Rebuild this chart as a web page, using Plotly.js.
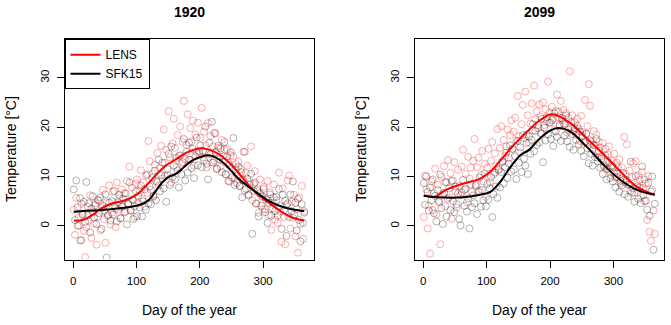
<!DOCTYPE html>
<html>
<head>
<meta charset="utf-8">
<script src="https://cdn.plot.ly/plotly-3.0.1.min.js"></script>
<style>
  html, body { margin: 0; padding: 0; background: #fff; }
  #chart { width: 671px; height: 325px; }
</style>
</head>
<body>
<div id="chart"></div>
<script>
// days sampled every second day of the year
const days = Array.from({length: 183}, (_, i) => 1 + 2 * i);

// 1920 daily temperatures (degC)
const lens1920 = [
  3.3, -1.8, 5.7, 0.0, 1.8, -2.9, 4.5, 2.2, -1.0, -6.3,
  -0.3, 3.9, 1.1, 6.2, -2.4, 2.8, 0.5, 4.6, -3.8, 1.9,
  5.1, -0.9, 3.6, 7.3, 1.4, -3.4, 4.8, 2.0, 8.2, 0.3,
  2.7, 6.9, 4.1, -0.2, 8.8, 3.3, 5.6, 1.5, 7.4, 4.0,
  6.6, 2.9, 9.1, 4.4, 12.0, 3.1, 7.8, 5.2, 1.8, 8.6,
  9.4, 4.6, 7.2, 11.3, 5.5, 8.8, 3.9, 10.2, 6.7, 17.2,
  13.1, 7.3, 10.6, 5.9, 12.4, 9.1, 14.8, 8.2, 11.7, 16.2,
  9.6, 19.5, 12.8, 15.4, 10.3, 23.2, 13.9, 8.8, 16.7, 21.7,
  15.8, 11.9, 18.4, 14.2, 20.1, 12.6, 17.0, 25.3, 13.5, 16.4,
  22.6, 13.4, 19.8, 17.1, 21.3, 12.2, 18.5, 15.0, 20.9, 14.6,
  17.8, 23.9, 13.9, 19.1, 16.3, 11.8, 20.8, 14.7, 18.2, 12.9,
  16.1, 13.2, 18.7, 11.5, 15.8, 14.1, 12.0, 17.4, 13.0, 15.5,
  10.4, 15.6, 12.8, 9.0, 14.3, 11.7, 14.1, 9.6, 12.5, 10.3,
  13.0, 8.1, 11.5, 9.4, 15.0, 7.2, 10.7, 12.2, 6.4, 8.9,
  16.1, 5.2, 8.5, 11.1, 4.6, 7.0, 2.7, 9.4, 5.9, 3.4,
  7.9, 3.4, 5.6, 9.1, 2.2, 6.8, -0.8, 4.7, 8.4, 1.3,
  5.2, 0.6, 10.8, 2.9, -3.2, 7.6, 1.8, -3.7, 4.3, 9.2,
  10.2, -0.5, 4.9, 1.6, 6.3, -2.1, 3.4, -5.4, 5.8, 0.4,
  8.1, -2.6, 3.0
];
const sfk1920 = [
  7.4, 1.2, 9.2, 3.8, 0.1, 5.6, -2.9, 2.4, 4.9, 0.8,
  8.9, 2.1, 4.6, -1.3, 3.5, 6.0, 1.7, 4.2, 0.4, 5.3,
  2.6, 5.8, -0.6, 4.1, 3.0, 6.4, -6.4, 2.2, 4.7, 1.1,
  5.0, 2.3, 7.1, 3.6, 0.9, 4.8, 6.3, 1.6, 3.9, 5.5,
  2.8, 6.6, 0.3, 4.5, 8.8, 3.2, 5.4, 1.4, 4.0, 7.0,
  2.0, 6.1, 3.7, 8.2, 1.9, 5.0, 7.4, 3.3, 10.4, 4.6,
  8.0, 4.4, 9.7, 6.1, 11.2, 5.2, 8.9, 13.4, 7.0, 10.3,
  12.8, 7.6, 10.1, 4.9, 11.5, 14.6, 8.3, 16.1, 9.9, 12.2,
  9.4, 13.8, 11.2, 7.8, 14.3, 10.5, 12.9, 17.6, 9.2, 15.0,
  10.8, 16.9, 13.4, 11.7, 15.6, 9.7, 14.1, 17.9, 12.3, 15.1,
  16.3, 11.9, 15.2, 13.3, 20.1, 12.6, 9.4, 16.8, 14.5, 21.1,
  12.8, 18.8, 14.9, 11.6, 16.2, 13.5, 15.7, 10.9, 14.1, 17.0,
  10.5, 14.0, 9.1, 12.3, 14.9, 9.8, 17.8, 8.3, 11.4, 8.7,
  12.0, 8.1, 10.9, 5.8, 9.2, 15.0, 7.5, 9.6, 6.2, 8.4,
  10.6, -1.6, 7.1, 8.8, 4.5, 7.4, 1.9, 6.6, 4.1, 6.0,
  7.5, 2.8, 5.3, 0.6, 4.7, 6.4, 2.1, 3.6, 5.8, 3.0,
  5.9, 2.1, 7.5, 4.0, -0.6, 6.3, 3.2, 5.1, -2.0, 4.6,
  1.8, 6.4, 3.0, 9.0, 2.3, 4.7, -0.9, 5.5, 1.2, -3.1,
  4.4, 0.6, 2.7
];

// 2099 daily temperatures (degC)
const lens2099 = [
  1.8, 10.2, 7.4, -0.5, 4.1, -5.6, 9.0, 3.2, 6.6, 11.6,
  2.4, 8.3, 5.1, -3.7, 9.9, 6.4, 12.1, 4.0, 8.8, 13.3,
  5.8, 10.7, 1.5, 9.2, 12.9, 7.0, 3.7, 11.4, 8.1, 6.2,
  12.0, 15.4, 7.3, 10.5, 4.8, 14.0, 9.6, 11.8, 6.9, 13.2,
  17.6, 8.4, 11.9, 13.8, 7.1, 10.3, 15.2, 9.0, 12.6, 5.9,
  11.8, 15.6, 8.9, 13.2, 17.0, 10.4, 14.7, 12.1, 19.6, 11.3,
  15.8, 20.2, 12.9, 17.4, 14.2, 16.1, 19.5, 13.8, 18.4, 21.4,
  15.6, 19.1, 21.9, 17.3, 26.3, 18.2, 14.9, 20.6, 24.5, 17.8,
  27.2, 18.5, 22.4, 16.9, 20.7, 24.8, 19.3, 28.4, 21.6, 23.2,
  19.8, 24.6, 22.1, 18.7, 25.0, 20.4, 23.6, 21.2, 29.2, 22.9,
  20.9, 24.1, 21.7, 19.4, 23.3, 26.6, 22.0, 20.2, 25.3, 21.4,
  23.5, 20.6, 22.8, 18.9, 21.9, 31.3, 20.1, 22.4, 19.2, 21.0,
  18.4, 21.7, 19.6, 17.2, 22.3, 19.0, 16.8, 25.5, 18.7, 20.2,
  28.7, 24.3, 17.1, 15.4, 19.2, 16.3, 18.5, 13.8, 17.0, 15.9,
  14.1, 16.8, 12.3, 15.6, 11.4, 14.5, 16.1, 10.9, 13.2, 12.0,
  14.6, 9.8, 12.8, 10.7, 13.5, 8.6, 11.9, 9.2, 18.0, 10.5,
  16.5, 8.3, 11.2, 7.1, 9.9, 12.7, 6.8, 13.1, 8.5, 10.3,
  9.4, 6.1, 11.0, 7.7, 5.0, 8.6, 1.2, 10.1, -1.2, -3.0,
  7.3, 3.1, -1.6
];
const sfk2099 = [
  8.7, 4.3, 10.0, 6.9, 3.1, 7.8, 5.2, 9.4, 2.6, 6.1,
  0.9, 7.3, 4.8, 10.4, 3.6, 0.4, 6.7, 8.9, 1.9, 5.5,
  7.6, 3.2, 9.1, 5.0, 2.8, 8.0, 4.4, 6.5, 1.4, 0.1,
  6.8, 9.3, 4.1, 7.5, 2.9, 5.6, -0.5, 8.4, 3.8, 6.2,
  4.6, 8.1, 2.4, 6.9, 9.8, 3.9, 7.3, 5.2, 10.6, 4.0,
  8.5, 5.3, 7.6, 9.9, 1.8, 6.4, 10.8, 8.0, 5.7, 11.5,
  7.8, 10.9, 13.1, 8.6, 11.9, 14.8, 9.7, 12.6, 16.3, 11.0,
  15.6, 11.4, 14.1, 9.5, 17.2, 12.8, 15.9, 10.9, 18.4, 13.6,
  12.2, 16.8, 10.5, 18.1, 14.6, 17.4, 20.6, 15.1, 19.2, 16.4,
  20.4, 16.9, 18.8, 21.7, 12.9, 19.9, 17.3, 22.0, 18.5, 20.9,
  17.6, 21.4, 16.2, 22.8, 19.1, 18.0, 23.1, 20.5, 17.2, 21.8,
  20.7, 18.3, 22.4, 17.1, 19.5, 16.0, 21.0, 18.6, 15.4, 19.8,
  17.4, 20.2, 16.5, 19.1, 15.2, 18.2, 14.1, 17.0, 18.6, 15.7,
  12.7, 17.3, 14.6, 12.2, 16.4, 13.9, 17.6, 13.1, 15.2, 11.8,
  13.6, 10.5, 12.0, 14.3, 9.4, 11.6, 12.9, 9.7, 12.2, 9.0,
  10.6, 7.8, 9.9, 11.9, 6.9, 9.1, 8.2, 10.7, 6.4, 8.8,
  9.3, 5.9, 8.4, 13.0, 6.7, 7.6, 4.9, 10.1, 8.0, 5.5,
  7.8, 4.6, 12.0, 6.2, 9.4, 5.1, 3.3, 8.7, 2.1, 7.0,
  10.0, -4.8, 4.5
];

// smoothed seasonal cycles
const lensFitDays1920 = [1, 15, 30, 45, 60, 80, 100, 115, 130, 145, 160, 180, 200, 220, 240, 260, 285, 310, 335, 350, 365];
const lensFit1920 = [1.1, 1.2, 2.2, 3.6, 4.5, 5.1, 6.3, 8.1, 10.2, 12.1, 13.3, 14.9, 15.7, 15.2, 13.6, 10.9, 7.2, 4.6, 2.4, 1.5, 1.1];
const sfkFitDays1920 = [1, 20, 40, 60, 80, 100, 110, 120, 130, 140, 150, 160, 170, 180, 190, 200, 214, 230, 245, 260, 285, 310, 335, 365];
const sfkFit1920 = [2.9, 3.1, 3.2, 3.4, 3.7, 4.1, 4.5, 5.3, 7.0, 8.7, 9.9, 10.4, 11.3, 12.5, 13.4, 13.9, 14.3, 13.5, 11.8, 9.7, 7.2, 5.0, 3.7, 3.0];
const lensFitDays2099 = [1, 17, 38, 64, 90, 106, 122, 143, 164, 183, 203, 232, 258, 285, 311, 337, 365];
const lensFit2099 = [6.2, 5.9, 7.4, 8.6, 9.6, 11.0, 13.3, 16.4, 19.1, 21.3, 22.6, 20.8, 17.7, 14.4, 11.0, 7.9, 6.3];
const sfkFitDays2099 = [1, 22, 64, 90, 106, 122, 138, 154, 167, 183, 200, 214, 232, 258, 285, 311, 337, 365];
const sfkFit2099 = [6.1, 5.8, 5.8, 6.3, 6.9, 9.0, 12.0, 14.4, 15.4, 17.6, 19.3, 19.8, 19.1, 16.0, 12.3, 9.3, 7.3, 6.3];

const xTicks = [0, 100, 200, 300];
const yTicks = [0, 10, 20, 30];
const panelTitles = ['1920', '2099'];

const RED = '#ff0000';
const BLACK = '#000000';

function pts(y, color, xa, ya) {
    return {
        x: days, y: y, xaxis: xa, yaxis: ya,
        type: 'scatter', mode: 'markers', showlegend: false, hoverinfo: 'skip',
        marker: { symbol: 'circle-open', size: 7, color: color, line: { width: 1, color: color } }
    };
}

function fit(x, y, color, name, xa, ya, legend) {
    return {
        x: x, y: y, xaxis: xa, yaxis: ya, name: name,
        type: 'scatter', mode: 'lines', showlegend: legend,
        line: { color: color, width: 2, shape: 'spline', smoothing: 1 }
    };
}

const traces = [
    pts(lens1920, 'rgba(255,0,0,0.32)', 'x', 'y'),
    pts(sfk1920, 'rgba(0,0,0,0.3)', 'x', 'y'),
    pts(lens2099, 'rgba(255,0,0,0.32)', 'x2', 'y2'),
    pts(sfk2099, 'rgba(0,0,0,0.3)', 'x2', 'y2'),
    fit(lensFitDays1920, lensFit1920, RED, 'LENS', 'x', 'y', true),
    fit(sfkFitDays1920, sfkFit1920, BLACK, 'SFK15', 'x', 'y', true),
    fit(lensFitDays2099, lensFit2099, RED, 'LENS', 'x2', 'y2', false),
    fit(sfkFitDays2099, sfkFit2099, BLACK, 'SFK15', 'x2', 'y2', false)
];

const W = 671, H = 325;
const yDom = [1 - 259.5 / H, 1 - 39.3 / H];
const xDom1 = [64.5 / W, 313.5 / W];
const xDom2 = [414.5 / W, 664 / W];

function xAxis(dom, anchor) {
    return {
        domain: dom, anchor: anchor, range: [-13.56, 379.56],
        tickvals: xTicks, ticks: 'outside', ticklen: 7, tickcolor: '#000',
        showline: true, mirror: true, linecolor: '#000', linewidth: 1,
        showgrid: false, zeroline: false, tickfont: { size: 11.5 },
        ticklabelstandoff: 4
    };
}

function yAxis(anchor) {
    return {
        domain: yDom, anchor: anchor, range: [-6.78, 37.77],
        tickvals: yTicks, tickangle: -90, ticks: 'outside', ticklen: 7, tickcolor: '#000',
        showline: true, mirror: true, linecolor: '#000', linewidth: 1,
        showgrid: false, zeroline: false, tickfont: { size: 11.5 },
        ticklabelstandoff: 3
    };
}

function label(text, x, y, angle) {
    return {
        text: text, x: x, y: y, textangle: angle || 0,
        xref: 'paper', yref: 'paper', xanchor: 'center', yanchor: 'middle',
        showarrow: false, font: { size: 14 }
    };
}

const centers = [(xDom1[0] + xDom1[1]) / 2, (xDom2[0] + xDom2[1]) / 2];
const annotations = [];
centers.forEach((cx, i) => {
    annotations.push(label('<b>' + panelTitles[i] + '</b>', cx, 1 - 12 / H));
    annotations.push(label('Day of the year', cx, 1 - 310 / H));
});
[11.7 / W, 361.7 / W].forEach(px => {
    annotations.push(label('Temperature [°C]', px, (yDom[0] + yDom[1]) / 2, -90));
});

const layout = {
    width: W, height: H,
    margin: { l: 0, r: 0, t: 0, b: 0 },
    paper_bgcolor: '#fff', plot_bgcolor: '#fff',
    font: { family: 'Liberation Sans, Arial, sans-serif', color: '#000' },
    xaxis: xAxis(xDom1, 'y'),
    yaxis: yAxis('x'),
    xaxis2: xAxis(xDom2, 'y2'),
    yaxis2: yAxis('x2'),
    showlegend: true,
    legend: {
        x: xDom1[0], y: yDom[1], xanchor: 'left', yanchor: 'top',
        bordercolor: '#000', borderwidth: 1, bgcolor: '#fff',
        font: { size: 12 }, traceorder: 'normal', tracegroupgap: 0
    },
    annotations: annotations
};

Plotly.newPlot('chart', traces, layout, { staticPlot: true });
</script>
</body>
</html>
